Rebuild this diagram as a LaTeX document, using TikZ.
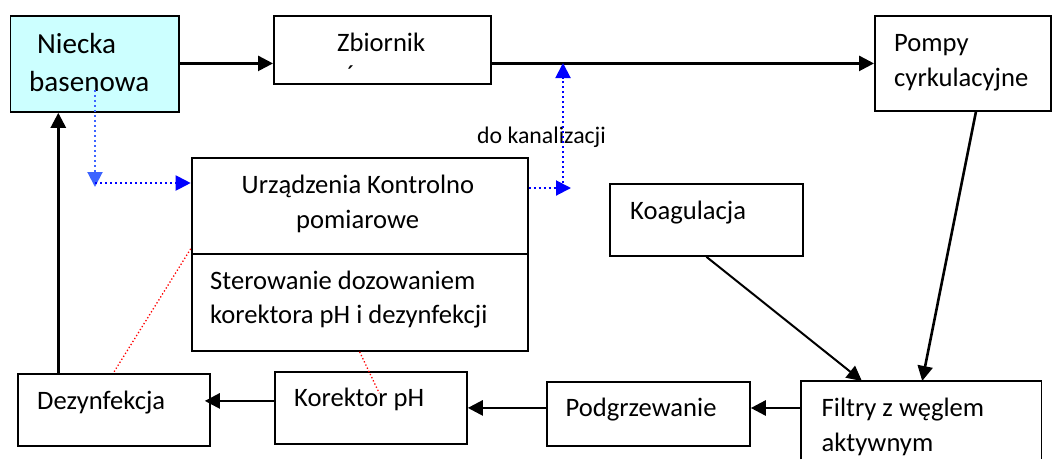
\documentclass[tikz,border=0pt]{standalone}
\usepackage{fontspec}
\setmainfont{Carlito}
\usetikzlibrary{arrows.meta}
\definecolor{pool}{RGB}{204,255,255}
\definecolor{dotblue}{RGB}{0,0,255}
\definecolor{lightdotblue}{RGB}{60,100,255}
\definecolor{dotred}{RGB}{255,0,0}
\tikzset{
  box/.style={draw=black, line width=1.8pt, rectangle, inner sep=0pt, anchor=north west},
  boxline/.style={draw=black, line width=1.8pt},
  txt/.style={inner sep=0pt, anchor=base west, font=\fontsize{26.6}{34}\selectfont},
  arr/.style={line width=2.6pt, -{Triangle[length=15pt,width=15pt]}},
  thinarr/.style={line width=2pt, -{Triangle[length=15pt,width=15pt]}},
  bluedot/.style={draw=dotblue, line width=2pt, dash pattern=on 2pt off 3pt, -{Triangle[length=15pt,width=15pt]}, dotblue},
  lbluedot/.style={draw=lightdotblue, line width=2pt, dash pattern=on 2pt off 3pt, -{Triangle[length=15pt,width=15pt]}, lightdotblue},
  reddot/.style={draw=dotred, line width=1.3pt, dash pattern=on 1.3pt off 2.2pt}
}
\begin{document}
\begin{tikzpicture}[x=1pt,y=-1pt]
\useasboundingbox (0,0) rectangle (1054,459);
% boxes
\node[box, fill=pool, minimum width=168.5pt, minimum height=96pt] (niecka) at (9.5,15) {};
\node[box, minimum width=217pt, minimum height=68pt] (zbiornik) at (273,15) {};
\node[box, minimum width=176pt, minimum height=95pt] (pompy) at (874,15) {};
\node[box, minimum width=336pt, minimum height=96pt] (urz) at (190.7,157) {};
\node[box, minimum width=336pt, minimum height=97pt] (ster) at (190.7,253) {};
\node[box, minimum width=193pt, minimum height=72pt] (koag) at (609,183) {};
\node[box, minimum width=192.3pt, minimum height=72pt] (dezyn) at (16.7,373) {};
\node[box, minimum width=192pt, minimum height=72pt] (korektor) at (274,371) {};
\node[box, minimum width=203.3pt, minimum height=64pt] (podgrz) at (545.7,381) {};
\node[inner sep=0pt, anchor=north west, minimum width=240pt, minimum height=78pt] (filtry) at (801,381) {};
\draw[boxline] (filtry.south west) -- (filtry.north west) -- (filtry.north east) -- (filtry.south east);
% texts
\node[txt, font=\fontsize{29.1}{36}\selectfont] (tNiecka) at (37,53.3) {Niecka};
\node[txt, font=\fontsize{29.1}{36}\selectfont] (tBasen) at (29,91.7) {basenowa};
\node[txt] (tZb) at (337,51.7) {Zbiornik};
\node[inner sep=0pt, anchor=north, font=\fontsize{26}{34}\selectfont] (tAcc) at (351,66) {´};
\node[txt] (tPompy) at (894,51.7) {Pompy};
\node[txt] (tCyrk) at (894,86.7) {cyrkulacyjne};
\node[txt, font=\fontsize{23.8}{30}\selectfont] (tKan) at (477,143.3) {do kanalizacji};
\node[txt] (tUrz) at (241.5,193.3) {Urządzenia Kontrolno};
\node[txt] (tPom) at (296,228.3) {pomiarowe};
\node[txt] (tSter) at (210,289.3) {Sterowanie dozowaniem};
\node[txt] (tKor) at (210,323.3) {korektora pH i dezynfekcji};
\node[txt] (tKoag) at (630,219.3) {Koagulacja};
\node[txt] (tDez) at (37,409) {Dezynfekcja};
\node[txt] (tKpH) at (294,406.7) {Korektor pH};
\node[txt] (tPodg) at (565.5,416.7) {Podgrzewanie};
\node[txt] (tFil) at (821.5,416.7) {Filtry z węglem};
\node[txt] (tAkt) at (821.5,451) {aktywnym};
% coordinates
\coordinate (b1) at (95,90);
\coordinate (b2) at (95,183);
\coordinate (kanA) at (571,188);
\coordinate (kanB) at (563,183);
\coordinate (kanC) at (563,63);
\coordinate (r2) at (379.3,393.3);
% black connectors
\draw[arr] (niecka.east |- pompy.west) -- (zbiornik.west |- pompy.west);
\draw[arr] (zbiornik.east |- pompy.west) -- (pompy.west);
\draw[arr] ([xshift=13pt]pompy.south) -- ([xshift=1pt]filtry.north);
\draw[thinarr] (koag.south) -- ([xshift=-59.3pt]filtry.north);
\draw[arr] ([yshift=-27pt]filtry.north west) -- ([yshift=-27pt]filtry.north west -| podgrz.east);
\draw[arr] (podgrz.west |- korektor.east) -- (korektor.east);
\draw[arr, shorten >=-6pt] ([yshift=7pt]korektor.west) -- ([yshift=7pt]korektor.west -| dezyn.east);
\draw[arr] ([xshift=41.6pt]dezyn.north west) -- ([xshift=41.6pt]dezyn.north west |- niecka.south);
% blue dotted
\draw[lbluedot] (b1) -- (95,187);
\draw[bluedot] (b2) -- (b2 -| urz.west);
\draw[bluedot] (urz.east |- kanA) -- (kanA);
\draw[bluedot] (kanB) -- (kanC);
% red dotted
\draw[reddot] ([yshift=6pt]urz.south west) -- ([xshift=96.6pt]dezyn.north west);
\draw[reddot] (ster.south) -- (r2);
\end{tikzpicture}
\end{document}
